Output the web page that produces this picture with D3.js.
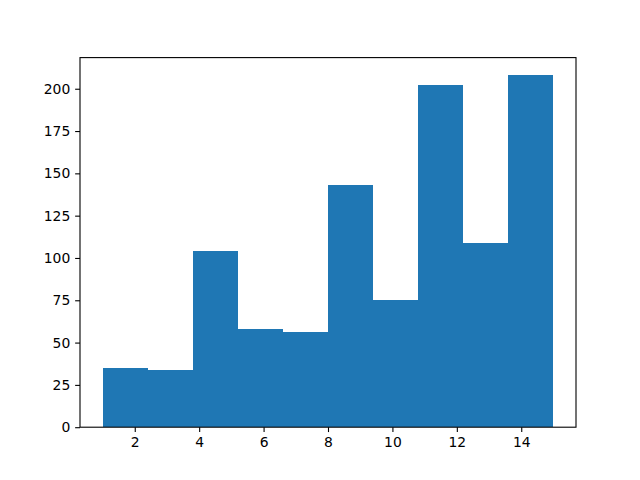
<!DOCTYPE html>
<html>
<head>
<meta charset="utf-8">
<script src="https://cdn.jsdelivr.net/npm/d3@7"></script>
<style>
html,body{margin:0;padding:0;background:#fff;}
svg{display:block;}
text{font-family:"DejaVu Sans",sans-serif;}
</style>
</head>
<body>
<script>
const binEdges = [1, 2.4, 3.8, 5.2, 6.6, 8, 9.4, 10.8, 12.2, 13.6, 15];
const counts = [35, 34, 104, 58, 56, 143, 75, 202, 109, 208];
const xTicks = [2, 4, 6, 8, 10, 12, 14];
const yTicks = [0, 25, 50, 75, 100, 125, 150, 175, 200];

const W = 640, H = 480;
const mLeft = 80, mRight = 576, mTop = 57.6, mBottom = 427.2;

const svg = d3.select("body").append("svg").attr("width", W).attr("height", H);

const xMin = binEdges[0], xMax = binEdges[binEdges.length - 1];
const pad = (xMax - xMin) * 0.05;
const x = d3.scaleLinear().domain([xMin - pad, xMax + pad]).range([mLeft, mRight]);
const y = d3.scaleLinear().domain([0, d3.max(counts) * 1.05]).range([mBottom, mTop]);

const bins = counts.map((c, i) => ({x0: binEdges[i], x1: binEdges[i + 1], c}));

svg.append("g").selectAll("rect").data(bins).join("rect")
  .attr("x", d => x(d.x0))
  .attr("width", d => x(d.x1) - x(d.x0))
  .attr("y", d => y(d.c))
  .attr("height", d => y(0) - y(d.c))
  .attr("fill", "#1f77b4")
  .attr("shape-rendering", "crispEdges");

const xAxis = d3.axisBottom(x).tickValues(xTicks).tickSize(4.86).tickPadding(4.86).tickFormat(d3.format("d"));
const yAxis = d3.axisLeft(y).tickValues(yTicks).tickSize(4.86).tickPadding(4.86).tickFormat(d3.format("d"));

const gx = svg.append("g").attr("transform", `translate(0,${mBottom})`).call(xAxis);
const gy = svg.append("g").attr("transform", `translate(${mLeft},0)`).call(yAxis);
[gx, gy].forEach(g => {
  g.select(".domain").remove();
  g.selectAll(".tick line").attr("stroke", "#000").attr("stroke-width", 1.1);
  g.selectAll(".tick text").attr("fill", "#000").style("font-size", "13.9px").style("font-family", "'DejaVu Sans', sans-serif");
});

svg.append("rect")
  .attr("x", mLeft).attr("y", mTop)
  .attr("width", mRight - mLeft).attr("height", mBottom - mTop)
  .attr("fill", "none").attr("stroke", "#000").attr("stroke-width", 1.1);
</script>
</body>
</html>
